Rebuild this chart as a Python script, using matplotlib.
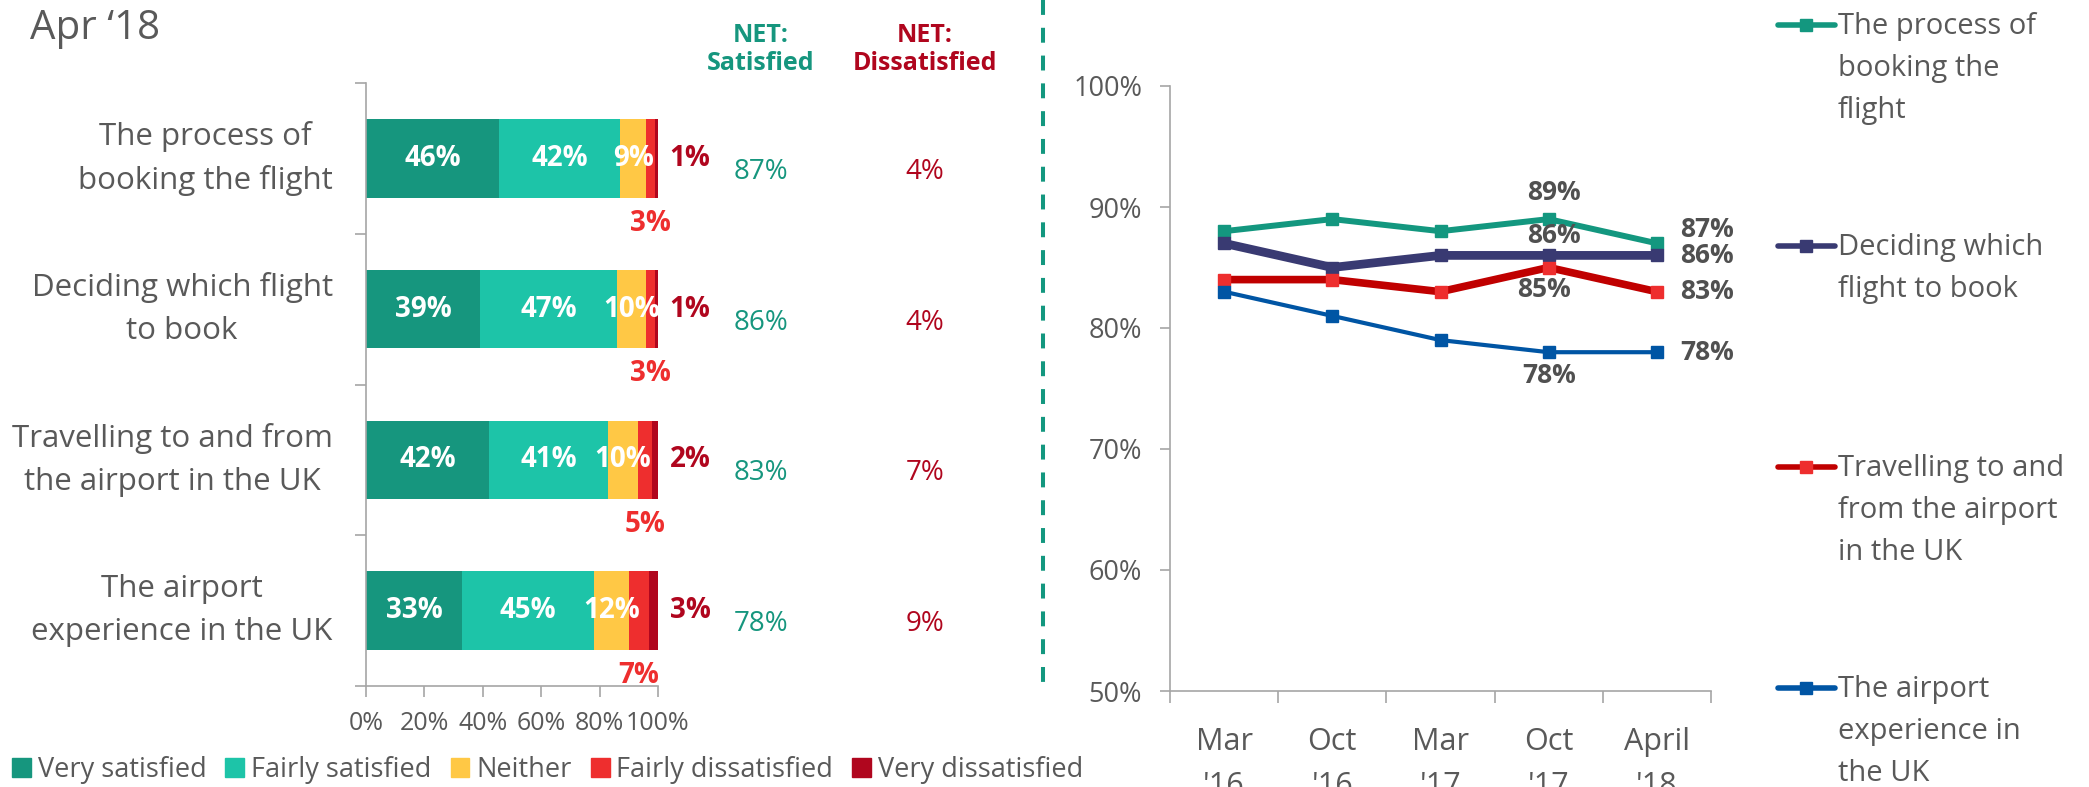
import numpy as np
import matplotlib.pyplot as plt
from matplotlib.lines import Line2D
from matplotlib.patches import Patch

plt.rcParams['font.family'] = ['Open Sans', 'DejaVu Sans']

# Apr '18 breakdown (left)
categories = ["The process of\nbooking the flight",
              "Deciding which flight\nto book",
              "Travelling to and from\nthe airport in the UK",
              "The airport\nexperience in the UK"]
very_sat = [46, 39, 42, 33]
fairly_sat = [42, 47, 41, 45]
neither = [9, 10, 10, 12]
fairly_dis = [3, 3, 5, 7]
very_dis = [1, 1, 2, 3]
net_sat = [87, 86, 83, 78]
net_dis = [4, 4, 7, 9]
segment_names = ["Very satisfied", "Fairly satisfied", "Neither",
                 "Fairly dissatisfied", "Very dissatisfied"]

# trend (right)
waves = ["Mar\n'16", "Oct\n'16", "Mar\n'17", "Oct\n'17", "April\n'18"]
booking = [88, 89, 88, 89, 87]
deciding = [87, 85, 86, 86, 86]
travelling = [84, 84, 83, 85, 83]
airport = [83, 81, 79, 78, 78]
trend_names = ["The process of\nbooking the\nflight",
               "Deciding which\nflight to book",
               "Travelling to and\nfrom the airport\nin the UK",
               "The airport\nexperience in\nthe UK"]

seg_colors = ['#16967e', '#1dc4a8', '#ffc845', '#ee2e2e', '#b0061e']
line_colors = ['#13977f', '#393a72', '#c00000', '#0055a4']
marker_colors = ['#13977f', '#393a72', '#ee2e2e', '#0055a4']
line_widths = [4.3, 6.3, 5.5, 3.0]
GREY = '#595959'
AXIS = '#a6a6a6'

W, H = 2089, 787
fig = plt.figure(figsize=(W / 100, H / 100), dpi=100)

# ---------------- stacked bars ----------------
ax1 = fig.add_axes([366 / W, 1 - 686 / H, 292 / W, 603 / H])
data = np.array([very_sat, fairly_sat, neither, fairly_dis, very_dis], float).T
shares = data / data.sum(axis=1, keepdims=True) * 100
y = np.arange(len(categories))
bar_h = 0.52
left = np.zeros(len(categories))
for j in range(len(segment_names)):
    ax1.barh(y, shares[:, j], left=left, height=bar_h, color=seg_colors[j],
             label=segment_names[j])
    for i in range(len(categories)):
        cx = left[i] + shares[i, j] / 2
        txt = f"{int(data[i, j])}%"
        if j < 3:
            ax1.text(cx, i, txt, ha='center', va='center', color='white',
                     fontsize=20, fontweight='bold')
        elif j == 3:
            ax1.text(cx, i + bar_h / 2 + 0.17, txt, ha='center', va='center',
                     color=seg_colors[3], fontsize=20, fontweight='bold', clip_on=False)
        else:
            ax1.text(left[i] + shares[i, j] + 4, i, txt, ha='left', va='center',
                     color=seg_colors[4], fontsize=20, fontweight='bold', clip_on=False)
    left += shares[:, j]

# NET columns
for i in range(len(categories)):
    ax1.text(135.3, i + 0.09, f"{net_sat[i]}%", ha='center', va='center',
             color='#16967e', fontsize=20, clip_on=False)
    ax1.text(191.4, i + 0.09, f"{net_dis[i]}%", ha='center', va='center',
             color='#b0061e', fontsize=20, clip_on=False)
ax1.text(135.3, -0.72, "NET:\nSatisfied", ha='center', va='center', color='#16967e',
         fontsize=18, fontweight='bold', linespacing=1.15, clip_on=False)
ax1.text(191.4, -0.72, "NET:\nDissatisfied", ha='center', va='center', color='#b0061e',
         fontsize=18, fontweight='bold', linespacing=1.15, clip_on=False)

ax1.set_xlim(0, 100)
ax1.set_ylim(len(categories) - 0.5, -0.5)
ax1.set_yticks(y)
ax1.set_yticklabels(categories, fontsize=22.5, color=GREY, multialignment='center',
                    linespacing=1.55, va='center')
ax1.set_yticks(np.arange(-0.5, len(categories), 1), minor=True)
ax1.tick_params(axis='y', which='major', length=0, pad=24)
ax1.tick_params(axis='y', which='minor', length=8, color=AXIS, width=1.2)
ax1.set_xticks(range(0, 101, 20))
ax1.set_xticklabels([f"{v}%" for v in range(0, 101, 20)], fontsize=18, color=GREY)
ax1.tick_params(axis='x', length=8, color=AXIS, width=1.2, pad=10)
for s in ['top', 'right']:
    ax1.spines[s].set_visible(False)
for s in ['left', 'bottom']:
    ax1.spines[s].set_color(AXIS)
    ax1.spines[s].set_linewidth(1.2)

handles = [Patch(color=c) for c in seg_colors]
fig.legend(handles, segment_names, loc='center left', bbox_to_anchor=(12 / W, 17 / H),
           ncol=5, frameon=False, fontsize=19.5, handlelength=0.7, handleheight=0.65,
           handletextpad=0.25, columnspacing=0.7, borderaxespad=0, borderpad=0,
           labelcolor=GREY)

# ---------------- trend lines ----------------
ax2 = fig.add_axes([1170 / W, 1 - 691 / H, 541 / W, 605 / H])
x = np.arange(len(waves))
series = [booking, deciding, travelling, airport]
for k, vals in enumerate(series):
    ax2.plot(x, vals, color=line_colors[k], lw=line_widths[k], marker='s', markersize=8,
             markerfacecolor=marker_colors[k], markeredgecolor=marker_colors[k],
             solid_joinstyle='round', solid_capstyle='round')

# (series, point, dx pt, dy pt, ha)
label_spots = [(0, 3, 4, 19, 'center'), (1, 3, 4, 14, 'center'),
               (2, 3, -3.6, -16, 'center'), (3, 3, 0, -16.5, 'center'),
               (0, 4, 17, 10, 'left'), (1, 4, 17, 0, 'left'),
               (2, 4, 17, 0, 'left'), (3, 4, 17, 0, 'left')]
for k, i, dx, dy, ha in label_spots:
    v = series[k][i]
    ax2.annotate(f"{v}%", xy=(i, v), xytext=(dx, dy), textcoords='offset points',
                 ha=ha, va='center', fontsize=19, fontweight='bold', color='#505050')

ax2.set_xlim(-0.5, len(waves) - 0.5)
ax2.set_ylim(50, 100)
ax2.set_yticks(range(50, 101, 10))
ax2.set_yticklabels([f"{v}%" for v in range(50, 101, 10)], fontsize=19.5, color=GREY)
ax2.tick_params(axis='y', length=7, color=AXIS, width=1.2, pad=13)
ax2.set_xticks(x)
ax2.set_xticklabels(waves, fontsize=22, color=GREY, linespacing=1.6)
ax2.tick_params(axis='x', which='major', length=0, pad=26)
ax2.set_xticks(np.arange(-0.5, len(waves), 1), minor=True)
ax2.tick_params(axis='x', which='minor', length=8.5, color=AXIS, width=1.2)
for s in ['top', 'right']:
    ax2.spines[s].set_visible(False)
for s in ['left', 'bottom']:
    ax2.spines[s].set_color(AXIS)
    ax2.spines[s].set_linewidth(1.2)

# right-hand legend
leg_rows = [25, 246, 467, 688]
for k, name in enumerate(trend_names):
    yf = 1 - leg_rows[k] / H
    fig.add_artist(Line2D([1778 / W, 1806 / W, 1835 / W], [yf, yf, yf],
                          transform=fig.transFigure, color=line_colors[k], lw=4,
                          solid_capstyle='round', marker='s', markersize=9,
                          markevery=[1], markerfacecolor=marker_colors[k],
                          markeredgecolor=marker_colors[k]))
    fig.text(1838 / W, 1 - (leg_rows[k] - 13) / H, name, ha='left', va='top',
             fontsize=21, color=GREY, linespacing=1.6)

# separator
fig.add_artist(Line2D([1043 / W, 1043 / W], [1, 1 - 693 / H], transform=fig.transFigure,
                      color='#13977f', lw=2.9, dashes=(3.7, 3.2)))

fig.text(30 / W, 1 - 39 / H, "Apr \u201818", fontsize=29, color=GREY, va='baseline')

fig.savefig("out.png", dpi=100)
